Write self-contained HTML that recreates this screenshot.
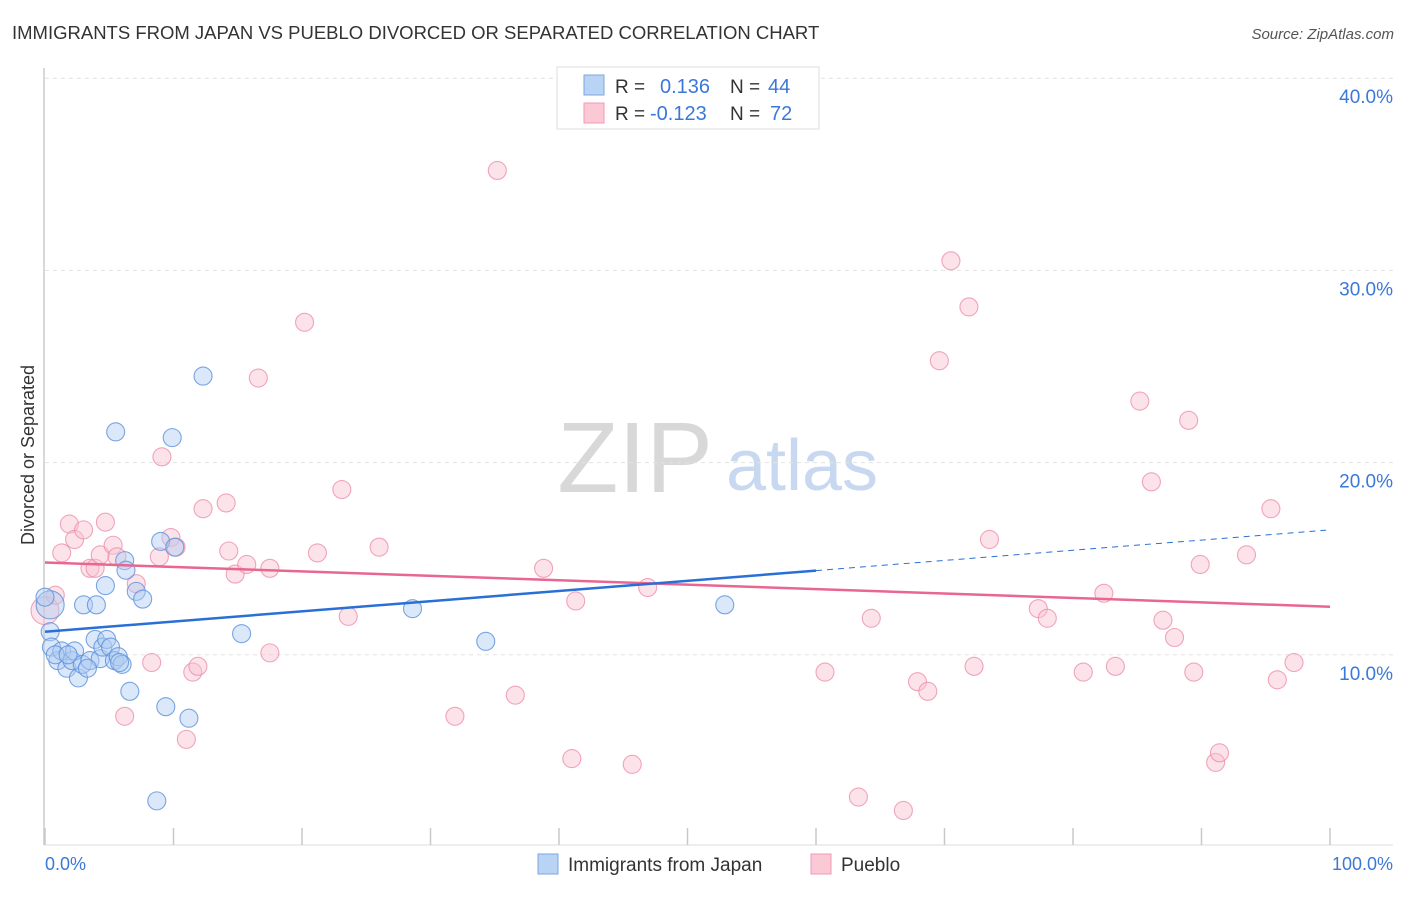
<!DOCTYPE html>
<html><head><meta charset="utf-8"><style>
body{margin:0;background:#fff;font-family:"Liberation Sans",sans-serif}
svg text{font-family:"Liberation Sans",sans-serif}
</style></head><body>
<svg id="c" width="1406" height="892" viewBox="0 0 1406 892" xmlns="http://www.w3.org/2000/svg">
<text x="12" y="39" font-size="18.5" fill="#333">IMMIGRANTS FROM JAPAN VS PUEBLO DIVORCED OR SEPARATED CORRELATION CHART</text>
<text x="1394" y="39" font-size="15" fill="#555" font-style="italic" text-anchor="end">Source: ZipAtlas.com</text>
<g>
<text x="635" y="492" font-size="100" fill="#d8d8d8" font-family="Liberation Serif" text-anchor="middle">ZIP</text>
<text x="802" y="490" font-size="72" fill="#c8d8f0" text-anchor="middle">atlas</text>
</g>
<g id="grid"></g>
<g id="marks"></g>
<text transform="translate(34,455) rotate(-90)" font-size="18" fill="#333" text-anchor="middle">Divorced or Separated</text>
<text x="45" y="870" font-size="18" fill="#3b78d8">0.0%</text>
<text x="1393" y="870" font-size="18" fill="#3b78d8" text-anchor="end">100.0%</text>
<g>
<rect x="538" y="854" width="20" height="20" fill="#b9d3f5" stroke="#7ea6e0"/>
<text x="568" y="871" font-size="19" fill="#333">Immigrants from Japan</text>
<rect x="811" y="854" width="20" height="20" fill="#fbc8d6" stroke="#f09ab4"/>
<text x="841" y="871" font-size="19" fill="#333">Pueblo</text>
</g>
<g>
<rect x="557" y="67" width="262" height="62" fill="#fff" stroke="#ddd"/>
<rect x="584" y="75" width="20" height="20" fill="#b9d3f5" stroke="#7ea6e0"/>
<rect x="584" y="103" width="20" height="20" fill="#fbc8d6" stroke="#f09ab4"/>
<text x="615" y="93" font-size="19" fill="#333">R =</text>
<text x="660" y="93" font-size="20" fill="#3b78d8">0.136</text>
<text x="730" y="93" font-size="19" fill="#333">N =</text>
<text x="768" y="93" font-size="20" fill="#3b78d8">44</text>
<text x="615" y="120" font-size="19" fill="#333">R =</text>
<text x="650" y="120" font-size="20" fill="#3b78d8">-0.123</text>
<text x="730" y="120" font-size="19" fill="#333">N =</text>
<text x="770" y="120" font-size="20" fill="#3b78d8">72</text>
</g>
</svg>
<script>
const yTicks=[10,20,30,40];
const yTickLabels=["10.0%","20.0%","30.0%","40.0%"];
const xTicks=[0,10,20,30,40,50,60,70,80,90,100];
const japanX=[0.4,0.4,0.5,1.0,1.3,1.7,2.1,2.3,2.6,2.9,3.0,3.5,3.9,4.0,4.3,4.5,4.8,5.1,4.7,5.4,5.7,6.0,5.5,6.2,6.3,6.6,7.1,7.6,8.7,9.0,9.4,9.9,10.1,11.2,12.3,15.3,28.6,34.3,52.9,0,0.8,3.3,5.8,1.8];
const japanY=[12.6,11.2,10.4,9.7,10.2,9.3,9.7,10.2,8.8,9.5,12.6,9.7,10.8,12.6,9.8,10.4,10.8,10.4,13.6,9.7,9.9,9.5,21.6,14.9,14.4,8.1,13.3,12.9,2.4,15.9,7.3,21.3,15.6,6.7,24.5,11.1,12.4,10.7,12.6,13.0,10.0,9.3,9.6,10.0];
const puebloX=[0,0.8,1.3,1.9,2.3,3.0,3.5,3.9,4.3,4.7,5.3,5.6,6.2,7.1,8.3,8.9,9.1,9.8,10.2,11.0,11.5,11.9,12.3,14.1,14.3,14.8,15.7,16.6,17.5,17.5,20.2,21.2,23.1,23.6,26.0,31.9,35.2,36.6,38.8,41.0,41.3,45.7,46.9,60.7,63.3,64.3,66.8,67.9,68.7,69.6,70.5,71.9,72.3,73.5,77.3,78.0,80.8,82.4,83.3,85.2,86.1,87.0,87.9,89.0,89.4,89.9,91.1,91.4,93.5,95.4,95.9,97.2];
const puebloY=[12.3,13.1,15.3,16.8,16.0,16.5,14.5,14.5,15.2,16.9,15.7,15.1,6.8,13.7,9.6,15.1,20.3,16.1,15.6,5.6,9.1,9.4,17.6,17.9,15.4,14.2,14.7,24.4,14.5,10.1,27.3,15.3,18.6,12.0,15.6,6.8,35.2,7.9,14.5,4.6,12.8,4.3,13.5,9.1,2.6,11.9,1.9,8.6,8.1,25.3,30.5,28.1,9.4,16.0,12.4,11.9,9.1,13.2,9.4,23.2,19.0,11.8,10.9,22.2,9.1,14.7,4.4,4.9,15.2,17.6,8.7,9.6];
const japanTrend=[11.2,16.5]; // value at x=0 and x=100
const japanSolidEnd=60;
const puebloTrend=[14.8,12.5];
const NS="http://www.w3.org/2000/svg";
const X=v=>45+v*12.85, Y=v=>847-v*19.22;
function mk(p,t,a){const e=document.createElementNS(NS,t);for(const k in a)e.setAttribute(k,a[k]);p.appendChild(e);return e;}
const grid=document.getElementById('grid'), marks=document.getElementById('marks');
let ax=mk(grid,'line',{x1:44,y1:68,x2:44,y2:845,stroke:'#ccc','stroke-width':1.5});


let bx=mk(grid,'line',{x1:44,y1:845,x2:1393,y2:845,stroke:'#ddd','stroke-width':1});


yTicks.forEach((t,i)=>{
 const g=mk(grid,'line',{x1:45,x2:1393,y1:Y(t),y2:Y(t),stroke:'#e2e2e2','stroke-dasharray':'4,4'});
 
 
 const l=mk(grid,'text',{x:1393,y:Y(t)+25,'font-size':19,fill:'#3b78d8','text-anchor':'end'});
 l.textContent=yTickLabels[i];
 
 
});
xTicks.forEach(t=>{
 const k=mk(grid,'line',{x1:X(t),x2:X(t),y1:828,y2:845,stroke:'#c8c8c8','stroke-width':1.5});
 
 
});
function dots(xs,ys,fill,stroke,name){
 xs.forEach((x,i)=>{
  const big=(i===0&&x<0.5&&ys[i]>12)?1:0;
  const c=mk(marks,'circle',{cx:X(x),cy:Y(ys[i]),r:big?14:9,fill:fill,'fill-opacity':0.45,stroke:stroke,'stroke-width':1.1,'stroke-opacity':0.8});
  
  
 });
}
dots(puebloX,puebloY,'#f9c0d0','#ee8fae','pueblo-point');
dots(japanX,japanY,'#b0cdf2','#5a90dc','japan-point');
const tv=(tr,x)=>tr[0]+(tr[1]-tr[0])*x/100;
let pl=mk(marks,'line',{x1:X(0),y1:Y(tv(puebloTrend,0)),x2:X(100),y2:Y(tv(puebloTrend,100)),stroke:'#e8668f','stroke-width':2.5});


let jl=mk(marks,'line',{x1:X(0),y1:Y(tv(japanTrend,0)),x2:X(japanSolidEnd),y2:Y(tv(japanTrend,japanSolidEnd)),stroke:'#2a6fd6','stroke-width':2.5});


let jd=mk(marks,'line',{x1:X(japanSolidEnd),y1:Y(tv(japanTrend,japanSolidEnd)),x2:X(99.7),y2:Y(tv(japanTrend,99.7)),stroke:'#2a6fd6','stroke-width':1,'stroke-dasharray':'6,5'});


</script>
</body></html>
